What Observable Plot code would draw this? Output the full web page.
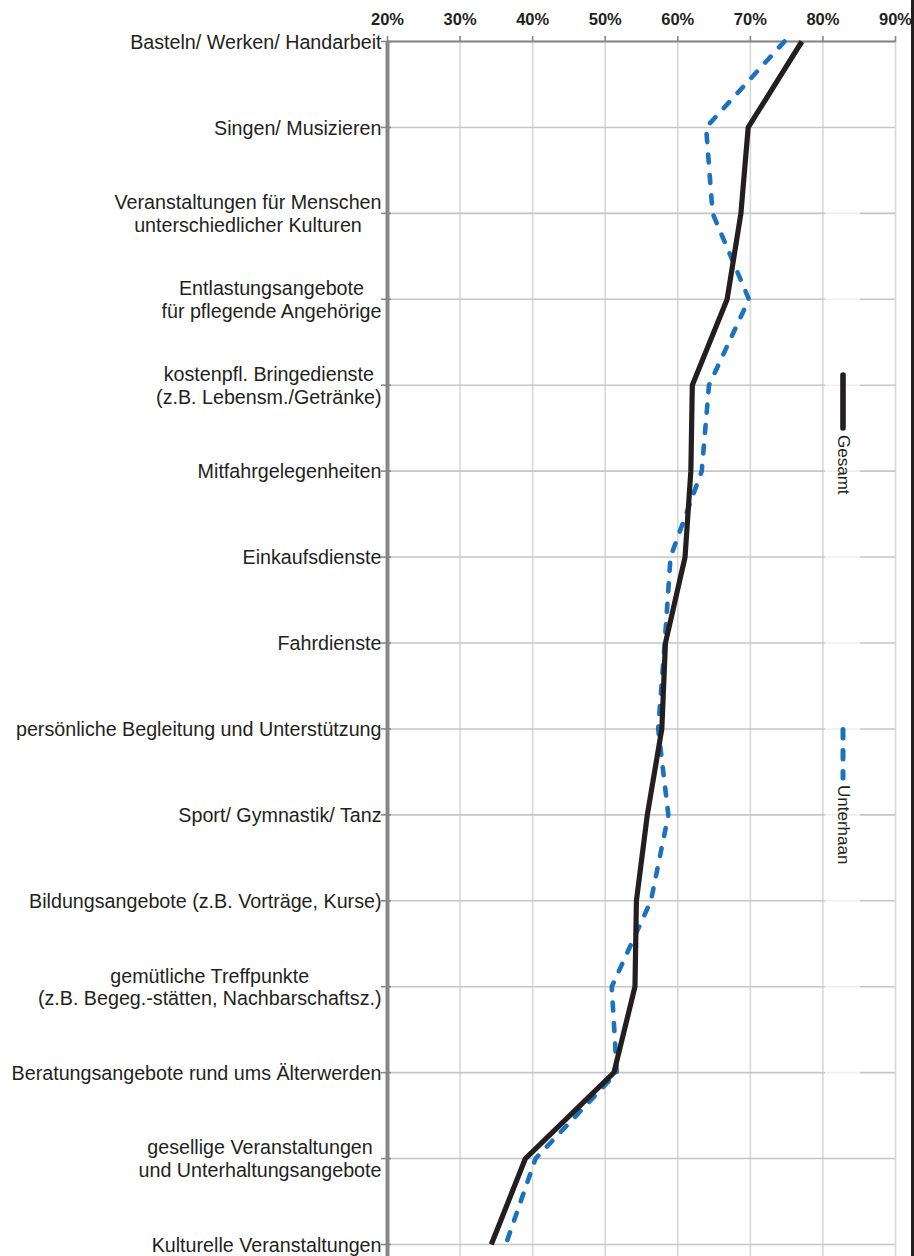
<!DOCTYPE html>
<html>
<head>
<meta charset="utf-8">
<script src="https://cdn.jsdelivr.net/npm/d3@7"></script>
<script src="https://cdn.jsdelivr.net/npm/@observablehq/plot@0.6"></script>
<style>
  html, body { margin: 0; padding: 0; background: #fff; }
  #wrap { position: relative; width: 914px; height: 1256px; overflow: hidden; }
  #wrap svg { display: block; }
  #legendBox { position: absolute; left: 825px; top: 150px; width: 35px; height: 950px; background: rgba(255,255,255,0.72); }
  #legend { position: absolute; left: 0; top: 0; pointer-events: none; }
  #border { position: absolute; right: 0; top: 0; width: 3px; height: 1256px; background: #231f20; }
</style>
</head>
<body>
<div id="wrap"></div>
<script>
const categories = [
  "Basteln/ Werken/ Handarbeit",
  "Singen/ Musizieren",
  "Veranstaltungen für Menschen\nunterschiedlicher Kulturen",
  "Entlastungsangebote\nfür pflegende Angehörige",
  "kostenpfl. Bringedienste\n(z.B. Lebensm./Getränke)",
  "Mitfahrgelegenheiten",
  "Einkaufsdienste",
  "Fahrdienste",
  "persönliche Begleitung und Unterstützung",
  "Sport/ Gymnastik/ Tanz",
  "Bildungsangebote (z.B. Vorträge, Kurse)",
  "gemütliche Treffpunkte\n(z.B. Begeg.-stätten, Nachbarschaftsz.)",
  "Beratungsangebote rund ums Älterwerden",
  "gesellige Veranstaltungen\nund Unterhaltungsangebote",
  "Kulturelle Veranstaltungen"
];
const gesamt    = [77.1, 69.7, 68.7, 66.8, 62.0, 61.8, 61.0, 58.3, 57.8, 55.8, 54.3, 54.1, 51.2, 39.0, 34.3];
const unterhaan = [74.7, 63.9, 64.8, 69.8, 64.3, 63.3, 59.0, 58.2, 57.3, 58.7, 56.3, 50.9, 51.6, 40.4, 36.3];
const xTicks = [20, 30, 40, 50, 60, 70, 80, 90];
const seriesNames = ["Gesamt", "Unterhaan"];

const rowsG = categories.map((c, i) => ({cat: c, value: gesamt[i]}));
const rowsU = categories.map((c, i) => ({cat: c, value: unterhaan[i]}));

const BLACK = "#231f20";
const BLUE = "#1c72be";
const AXIS = "#868686";

const chart = Plot.plot({
  width: 914,
  height: 1256,
  marginLeft: 387,
  marginRight: 19,
  marginTop: 41,
  marginBottom: 0,
  style: {fontFamily: "'Liberation Sans', Arial, sans-serif", background: "white", color: BLACK, overflow: "visible"},
  x: {domain: [20, 90]},
  y: {type: "point", domain: categories, padding: 0, insetBottom: 12, round: false},
  marks: [
    Plot.gridX(xTicks, {stroke: "#d8d8d8", strokeOpacity: 1, strokeWidth: 1.6}),
    Plot.gridY(categories, {stroke: "#c6c6c6", strokeOpacity: 1, strokeWidth: 1.6}),
    Plot.ruleY([categories[0]], {stroke: AXIS, strokeWidth: 2.2}),
    Plot.ruleX([20], {stroke: AXIS, strokeWidth: 4}),
    Plot.axisX({anchor: "top", ticks: xTicks, tickFormat: d => d + "%", tickSize: 6, tickPadding: 11,
      fontSize: 16.5, fontWeight: "bold", stroke: AXIS, strokeWidth: 1.6, fill: BLACK, label: null}),
    Plot.axisY({anchor: "left", tickSize: 10, tickPadding: 0, dx: 4, fontSize: 19.7, lineHeight: 1.16,
      stroke: AXIS, strokeWidth: 1.6, fill: BLACK, tickFormat: d => d, label: null}),
    Plot.line(rowsU, {x: "value", y: "cat", stroke: BLUE, strokeWidth: 4.6, strokeDasharray: "8,12.5",
      strokeLinecap: "round", strokeLinejoin: "round"}),
    Plot.line(rowsG, {x: "value", y: "cat", stroke: BLACK, strokeWidth: 5.2,
      strokeLinecap: "butt", strokeLinejoin: "miter"})
  ]
});

const wrap = document.getElementById("wrap");
wrap.append(chart);

// center multi-line category labels within their block (right edge stays at the tick)
chart.querySelectorAll('g[aria-label="y-axis tick label"] text').forEach(t => {
  const spans = t.querySelectorAll("tspan");
  if (spans.length > 1) {
    let maxW = 0;
    spans.forEach(s => { maxW = Math.max(maxW, s.getComputedTextLength()); });
    t.setAttribute("text-anchor", "middle");
    spans.forEach(s => s.setAttribute("x", -maxW / 2));
  }
});

// legend box (translucent) + legend
const box = document.createElement("div");
box.id = "legendBox";
wrap.append(box);

const ns = "http://www.w3.org/2000/svg";
const leg = document.createElementNS(ns, "svg");
leg.setAttribute("id", "legend");
leg.setAttribute("width", 914);
leg.setAttribute("height", 1256);
const legendItems = [
  {name: seriesNames[0], color: BLACK, dash: null, y0: 375, y1: 428, width: 5.6},
  {name: seriesNames[1], color: BLUE, dash: "8.5,12.5", y0: 729.5, y1: 778, width: 5}
];
legendItems.forEach(it => {
  const l = document.createElementNS(ns, "line");
  l.setAttribute("x1", 843); l.setAttribute("x2", 843);
  l.setAttribute("y1", it.y0); l.setAttribute("y2", it.y1);
  l.setAttribute("stroke", it.color);
  l.setAttribute("stroke-width", it.width);
  l.setAttribute("stroke-linecap", "round");
  if (it.dash) l.setAttribute("stroke-dasharray", it.dash);
  leg.append(l);
  const tx = document.createElementNS(ns, "text");
  tx.setAttribute("transform", `translate(843,${it.y1 + 7}) rotate(90)`);
  tx.setAttribute("dominant-baseline", "central");
  tx.setAttribute("font-family", "'Liberation Sans', Arial, sans-serif");
  tx.setAttribute("font-size", 17);
  tx.setAttribute("fill", BLACK);
  tx.textContent = it.name;
  leg.append(tx);
});
wrap.append(leg);

const border = document.createElement("div");
border.id = "border";
wrap.append(border);
</script>
</body>
</html>
